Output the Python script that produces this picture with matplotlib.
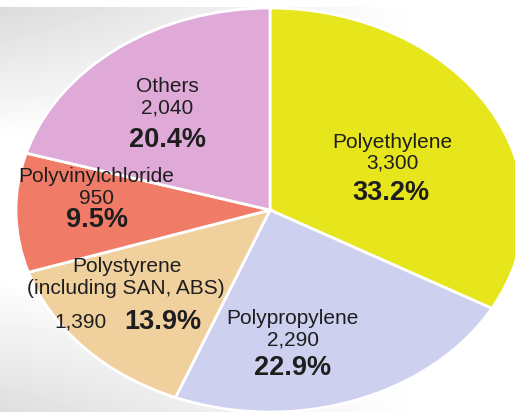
import matplotlib
matplotlib.use("Agg")
import matplotlib.pyplot as plt
import numpy as np

plt.rcParams.update({
    "font.family": ["Liberation Sans", "DejaVu Sans"],
    "figure.dpi": 100,
    "savefig.dpi": 100,
})

# ── Data ──────────────────────────────────────────────────────────────────────
materials = ["Polyethylene", "Polypropylene", "Polystyrene\n(including SAN, ABS)",
             "Polyvinylchloride", "Others"]
amounts   = [3300, 2290, 1390, 950, 2040]
shares    = [33.2, 22.9, 13.9, 9.5, 20.4]
colors    = ["#e7e51c", "#cdd0ee", "#f0d09d", "#f07c68", "#dfa9d8"]

W, H = 515, 412

fig = plt.figure(figsize=(W / 100, H / 100))

# background: grey at top and bottom left corners, fading to white
bg = fig.add_axes([0, 0, 1, 1], zorder=0)
yy, xx = np.mgrid[0:H, 0:W]
top = np.clip(1 - yy / 140, 0, 1) * 0.15
bot = np.clip((yy - 280) / 130, 0, 1) * 0.13
fade = np.clip(1 - xx / 420, 0, 1)
img = 1 - (top + bot) * fade
img[:7, :] = 1.0
bg.imshow(img, cmap="gray", vmin=0, vmax=1, aspect="auto")
bg.axis("off")

# pie axes stretched so the unit circle becomes the ellipse of the reference
cx, cy, rx, ry = 270, 210, 254, 202
ax = fig.add_axes([(cx - rx) / W, (H - cy - ry) / H, 2 * rx / W, 2 * ry / H], zorder=1)
ax.patch.set_alpha(0)
ax.pie(amounts, colors=colors, startangle=90, counterclock=False, radius=1,
       wedgeprops=dict(edgecolor="white", linewidth=2))
ax.set_aspect("auto")
ax.set_xlim(-1, 1)
ax.set_ylim(-1, 1)
ax.axis("off")


def put(x, y, s, bold=False):
    fig.text(x / W, 1 - y / H, s, ha="center", va="center", color="#1e1e1e",
             fontsize=19.5 if bold else 15,
             fontweight="heavy" if bold else "normal", zorder=5)


# label layout (pixel centres in the reference)
put(392, 142, materials[0])
put(392, 163, f"{amounts[0]:,}")
put(391, 193, f"{shares[0]}%", bold=True)

put(292, 318, materials[1])
put(293, 340, f"{amounts[1]:,}")
put(293, 368, f"{shares[1]}%", bold=True)

put(127, 267, materials[2].split("\n")[0])
put(126, 288, materials[2].split("\n")[1])
put(81, 322, f"{amounts[2]:,}")
put(163, 322, f"{shares[2]}%", bold=True)

put(96, 176, materials[3])
put(96, 198, f"{amounts[3]:,}")
put(97, 220, f"{shares[3]}%", bold=True)

put(167, 87, materials[4])
put(167, 108, f"{amounts[4]:,}")
put(167, 140, f"{shares[4]}%", bold=True)

fig.savefig("out.png", dpi=100)
